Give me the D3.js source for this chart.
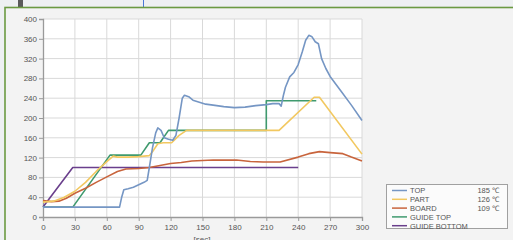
<!DOCTYPE html>
<html>
<head>
<meta charset="utf-8">
<script src="https://cdn.jsdelivr.net/npm/d3@7"></script>
<style>
  body { margin: 0; background: #eef0f2; }
  svg { display: block; font-family: "Liberation Sans", Arial, sans-serif; }
</style>
</head>
<body>
<svg id="chart"></svg>
<script>
    /* data */
    let xTicks = [0, 30, 60, 90, 120, 150, 180, 210, 240, 270, 300];
    let yTicks = [0, 40, 80, 120, 160, 200, 240, 280, 320, 360, 400];

    let topSeries = [[0,20],[72,20],[74,40],[76,55],[80,57],[85,60],[90,65],[95,70],[98,74],[100,100],[103,140],[106,170],[108,180],[111,175],[114,160],[118,157],[122,155],[125,165],[128,200],[131,240],[133,246],[137,243],[141,236],[147,232],[153,228],[160,226],[170,223],[180,221],[190,222],[200,225],[210,227],[216,229],[222,229],[224,224],[226,245],[228,262],[232,283],[236,292],[240,308],[244,335],[247,357],[250,367],[253,364],[256,354],[259,350],[262,320],[266,300],[270,284],[280,255],[290,226],[300,195]];
    let partSeries = [[0,30],[10,32],[20,40],[30,52],[40,70],[50,92],[60,112],[66,123],[70,121],[80,121],[90,122],[100,124],[104,135],[108,148],[113,150],[121,150],[128,165],[135,175],[222,175],[255,242],[260,242],[300,127]];
    let boardSeries = [[0,33],[8,31],[15,32],[22,38],[30,48],[40,58],[50,70],[60,81],[70,92],[78,97],[90,98],[100,100],[110,104],[120,108],[130,110],[140,113],[160,115],[182,115],[195,112],[207,111],[223,111],[240,121],[250,128],[260,132],[270,130],[282,128],[290,121],[300,113]];
    let guideTop = [[0,20],[28,20],[63,125],[92,125],[100,150],[110,150],[118,175],[210,175],[210,235],[257,235]];
    let guideBottom = [[0,20],[28,100],[240,100]];

    let legendNames = ["TOP", "PART", "BOARD", "GUIDE TOP", "GUIDE BOTTOM"];
    let legendValues = ["185 ℃", "126 ℃", "109 ℃", "", ""];
    let colors = ["#7596c4", "#f2c860", "#c8643c", "#3f9a6e", "#6a3f8c"];

    let width = 513;
    let height = 240;

    const svg = d3.select("#chart").attr("width", width).attr("height", height);

    // window frame
    svg.append("rect").attr("x", 0).attr("y", 0).attr("width", width).attr("height", height).attr("fill", "#eef0f2");
    svg.append("rect").attr("x", 18).attr("y", 0).attr("width", 5).attr("height", 7).attr("fill", "#5a5a5a");
    svg.append("line").attr("x1", 143.5).attr("x2", 143.5).attr("y1", 0).attr("y2", 7).attr("stroke", "#4a78d8");
    svg.append("rect").attr("x", 5).attr("y", 7.5).attr("width", width).attr("height", height).attr("fill", "#f3f3f3")
        .attr("stroke", "#6b9a42").attr("stroke-width", 1.6);

    const xScale = d3.scaleLinear().domain([0, 300]).range([43, 362]);
    const yScale = d3.scaleLinear().domain([0, 400]).range([217, 19]);

    svg.append("rect").attr("x", 43).attr("y", 19).attr("width", 319).attr("height", 198).attr("fill", "#fff");

    // grid
    svg.append("g").selectAll("line").data(xTicks.slice(1)).enter().append("line")
        .attr("x1", d => xScale(d)).attr("x2", d => xScale(d))
        .attr("y1", 19).attr("y2", 217).attr("stroke", "#d9d9d9");
    svg.append("g").selectAll("line").data(yTicks.slice(1)).enter().append("line")
        .attr("x1", 43).attr("x2", 362)
        .attr("y1", d => yScale(d)).attr("y2", d => yScale(d)).attr("stroke", "#d9d9d9");

    // axes
    const xAxis = d3.axisBottom(xScale).tickValues(xTicks).tickSize(4).tickPadding(3);
    const yAxis = d3.axisLeft(yScale).tickValues(yTicks).tickSize(4).tickPadding(2);
    const gx = svg.append("g").attr("transform", "translate(0,217)").call(xAxis);
    const gy = svg.append("g").attr("transform", "translate(43,0)").call(yAxis);
    [gx, gy].forEach(g => {
        g.select(".domain").attr("stroke", "#9a9a9a").attr("stroke-width", 1.3);
        g.selectAll(".tick line").attr("stroke", "#9a9a9a");
        g.selectAll("text").attr("fill", "#555").style("font-size", "8px");
    });

    svg.append("text").attr("x", 202).attr("y", 242).attr("text-anchor", "middle")
        .attr("fill", "#555").style("font-size", "8px").text("[sec]");

    // series
    const line = d3.line().x(d => xScale(d[0])).y(d => yScale(d[1]));
    const series = [topSeries, partSeries, boardSeries, guideTop, guideBottom];
    [4, 3, 2, 1, 0].forEach(i => {
        svg.append("path").attr("d", line(series[i])).attr("fill", "none")
            .attr("stroke", colors[i]).attr("stroke-width", 1.6).attr("stroke-linejoin", "round");
    });

    // legend
    const lg = svg.append("g");
    lg.append("rect").attr("x", 386.5).attr("y", 184.5).attr("width", 121).attr("height", 44)
        .attr("fill", "#fbfbfb").attr("stroke", "#a0a0a0");
    legendNames.forEach((n, i) => {
        let y = 190.5 + i * 8.8;
        lg.append("line").attr("x1", 392).attr("x2", 407).attr("y1", y).attr("y2", y)
            .attr("stroke", colors[i]).attr("stroke-width", 1.5);
        lg.append("text").attr("x", 410).attr("y", y + 2.8).attr("fill", "#555")
            .style("font-size", "7.5px").text(n);
        lg.append("text").attr("x", 499).attr("y", y + 2.8).attr("fill", "#555").attr("text-anchor", "end")
            .style("font-size", "7.5px").text(legendValues[i]);
    });
</script>
</body>
</html>
